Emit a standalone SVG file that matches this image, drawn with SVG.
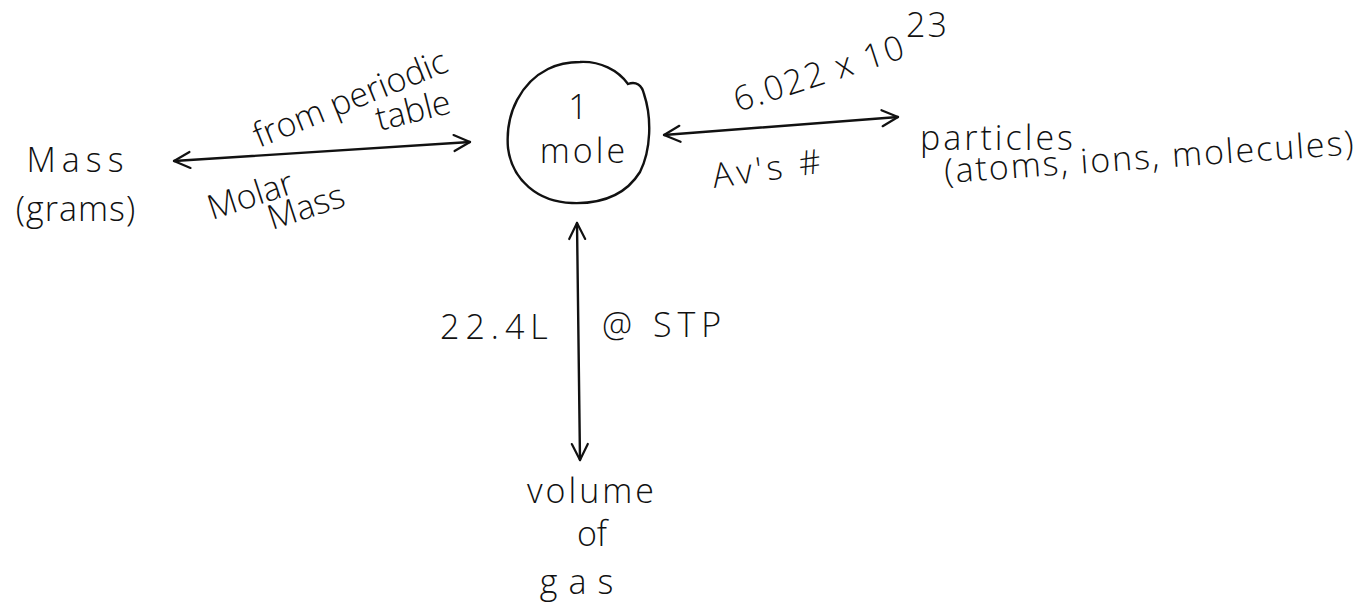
<svg xmlns="http://www.w3.org/2000/svg" width="1366" height="607" viewBox="0 0 1366 607">
<defs>
<marker id="head" viewBox="0 0 20 20" refX="18" refY="10" markerWidth="20" markerHeight="20" markerUnits="userSpaceOnUse" orient="auto-start-reverse">
<path d="M2,2 L18,10 L2,18" fill="none" stroke="#111" stroke-width="2.2" stroke-linecap="round" stroke-linejoin="round"/>
</marker>
<style>
.t{font-family:"Open Sans","Liberation Sans",sans-serif;font-size:34px;fill:#111;font-weight:300}
.c{stroke:#111;stroke-width:2.4;fill:none;stroke-linecap:round}
</style>
</defs>
<rect width="1366" height="607" fill="#fff"/>
<g id="connectors">
<path class="c" d="M174,161 L470,142" marker-start="url(#head)" marker-end="url(#head)"/>
<path class="c" d="M664,135 L898,117" marker-start="url(#head)" marker-end="url(#head)"/>
<path class="c" d="M577,223 L580,460" marker-start="url(#head)" marker-end="url(#head)"/>
</g>
<g id="mole">
<path class="c" d="M580,62 C600,61 618,70 628,84 C636,81 642,85 644,94 C652,118 651,150 640,172 C625,196 600,204 572,203 C538,202 512,180 508,148 C505,112 522,82 548,69 C558,64 570,62 580,62 Z"/>
<text class="t" x="578" y="119" text-anchor="middle">1</text>
<text class="t" x="584" y="163" text-anchor="middle" letter-spacing="3">mole</text>
</g>
<g id="mass">
<text class="t" x="78" y="172" text-anchor="middle" letter-spacing="6">Mass</text>
<text class="t" x="76" y="221" text-anchor="middle" letter-spacing="1">(grams)</text>
</g>
<g id="mass-labels">
<text class="t" font-size="30" transform="translate(259,148) rotate(-22)">from periodic</text>
<text class="t" font-size="30" transform="translate(379,131) rotate(-14)">table</text>
<text class="t" font-size="30" transform="translate(212,220) rotate(-18)">Molar</text>
<text class="t" font-size="30" transform="translate(272,230) rotate(-18)">Mass</text>
</g>
<g id="particles">
<text class="t" x="920" y="150" letter-spacing="3">particles</text>
<text class="t" transform="translate(945,183) rotate(-4)" letter-spacing="2">(atoms, ions, molecules)</text>
</g>
<g id="particle-labels">
<text class="t" font-size="30" letter-spacing="2" transform="translate(738,112) rotate(-18)">6.022 x 10</text>
<text class="t" font-size="24" x="906" y="37" letter-spacing="2">23</text>
<text class="t" letter-spacing="4" transform="translate(714,188) rotate(-8)">Av's #</text>
</g>
<g id="volume">
<text class="t" x="592" y="503" text-anchor="middle" letter-spacing="3">volume</text>
<text class="t" font-size="30" x="592" y="546" text-anchor="middle">of</text>
<text class="t" x="582" y="594" text-anchor="middle" letter-spacing="11">gas</text>
</g>
<g id="volume-labels">
<text class="t" x="440" y="339" letter-spacing="6">22.4L</text>
<text class="t" font-size="40" x="602" y="337" letter-spacing="6">@ STP</text>
</g>
</svg>
